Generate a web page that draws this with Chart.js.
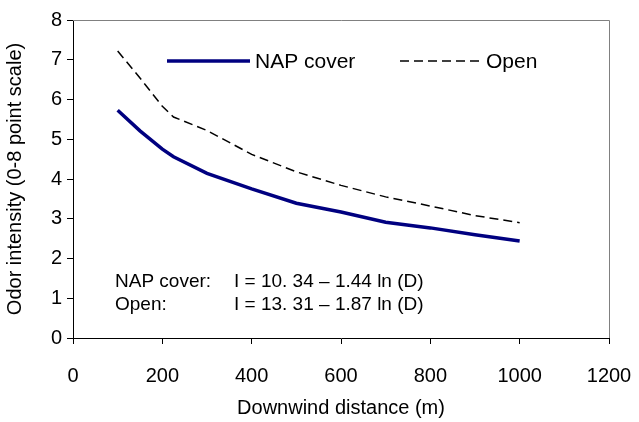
<!DOCTYPE html>
<html>
<head>
<meta charset="utf-8">
<script src="https://cdn.jsdelivr.net/npm/chart.js@4.4.1/dist/chart.umd.min.js"></script>
<style>
    html, body { margin: 0; padding: 0; background: #fff; }
    #wrap { width: 639px; height: 422px; }
</style>
</head>
<body>
<div id="wrap"><canvas id="odorChart" width="639" height="422"></canvas></div>
<script>
// distances (m) and odor intensities
const distances = [100, 150, 200, 225, 300, 400, 500, 600, 700, 800, 900, 1000];
const napCover = [5.73, 5.21, 4.75, 4.56, 4.14, 3.75, 3.39, 3.17, 2.91, 2.77, 2.60, 2.44];
const openLagoon = [7.22, 6.54, 5.83, 5.56, 5.22, 4.62, 4.18, 3.84, 3.55, 3.32, 3.08, 2.90];
const xTicks = [0, 200, 400, 600, 800, 1000, 1200];
const yTicks = [0, 1, 2, 3, 4, 5, 6, 7, 8];
const equations = [
    ['NAP cover:', 'I = 10. 34 \u2013 1.44 ln (D)'],
    ['Open:', 'I = 13. 31 \u2013 1.87 ln (D)']
];

const FONT = '"Liberation Sans", Arial, sans-serif';

function toPoints(ys) {
    return distances.map((d, i) => ({ x: d, y: ys[i] }));
}

// grey frame on top/right, legend and equation text inside the plot
const extras = {
    id: 'extras',
    beforeDatasetsDraw(chart) {
        const { ctx, chartArea: a } = chart;
        ctx.save();
        ctx.strokeStyle = '#808080';
        ctx.lineWidth = 1;
        ctx.beginPath();
        ctx.moveTo(a.left, a.top + 0.5);
        ctx.lineTo(a.right + 0.5, a.top + 0.5);
        ctx.lineTo(a.right + 0.5, a.bottom);
        ctx.stroke();
        ctx.restore();
    },
    afterDatasetsDraw(chart) {
        const { ctx, chartArea: a } = chart;
        ctx.save();
        // legend
        const ly = a.top + 41;
        ctx.lineWidth = 3.5;
        ctx.strokeStyle = '#000080';
        ctx.beginPath();
        ctx.moveTo(167, ly);
        ctx.lineTo(250, ly);
        ctx.stroke();
        ctx.lineWidth = 1.5;
        ctx.strokeStyle = '#000';
        ctx.setLineDash([9, 5]);
        ctx.beginPath();
        ctx.moveTo(400, ly);
        ctx.lineTo(480, ly);
        ctx.stroke();
        ctx.setLineDash([]);
        ctx.fillStyle = '#000';
        ctx.font = '21px ' + FONT;
        ctx.textBaseline = 'middle';
        ctx.fillText('NAP cover', 255, ly + 1);
        ctx.fillText('Open', 486, ly + 1);
        // equations
        ctx.font = '19px ' + FONT;
        equations.forEach((row, i) => {
            const y = 282 + i * 23;
            ctx.fillText(row[0], 115, y);
            ctx.fillText(row[1], 234, y);
        });
        ctx.restore();
    }
};

const ctx = document.getElementById('odorChart').getContext('2d');
new Chart(ctx, {
    type: 'line',
    data: {
        datasets: [
            {
                label: 'NAP cover',
                data: toPoints(napCover),
                borderColor: '#000080',
                borderWidth: 3.5,
                pointRadius: 0,
                tension: 0,
                fill: false
            },
            {
                label: 'Open',
                data: toPoints(openLagoon),
                borderColor: '#000000',
                borderWidth: 1.5,
                borderDash: [9, 5],
                pointRadius: 0,
                tension: 0,
                fill: false
            }
        ]
    },
    options: {
        responsive: false,
        animation: false,
        layout: { padding: { top: 20, right: 30, left: 0, bottom: 0 } },
        plugins: {
            legend: { display: false },
            tooltip: { enabled: false }
        },
        scales: {
            x: {
                type: 'linear',
                min: 0,
                max: 1200,
                afterBuildTicks: (scale) => { scale.ticks = xTicks.map(v => ({ value: v })); },
                afterFit: (scale) => {
                    scale.height = 84;
                    scale.paddingLeft = 0;
                    scale.paddingRight = 0;
                },
                border: { color: '#000', width: 1 },
                grid: { drawOnChartArea: false, color: '#000', tickLength: 6 },
                ticks: {
                    color: '#000',
                    padding: 20,
                    font: { family: FONT, size: 20 },
                    callback: (v) => String(v)
                },
                title: {
                    display: true,
                    text: 'Downwind distance (m)',
                    color: '#000',
                    font: { family: FONT, size: 20 },
                    padding: { top: 0, bottom: 2 }
                }
            },
            y: {
                min: 0,
                max: 8,
                afterBuildTicks: (scale) => { scale.ticks = yTicks.map(v => ({ value: v })); },
                afterFit: (scale) => { scale.width = 73; },
                border: { color: '#000', width: 1 },
                grid: { drawOnChartArea: false, color: '#000', tickLength: 6 },
                ticks: {
                    color: '#000',
                    padding: 5,
                    font: { family: FONT, size: 20 },
                    callback: (v) => String(v)
                },
                title: {
                    display: true,
                    text: 'Odor intensity (0-8 point scale)',
                    color: '#000',
                    font: { family: FONT, size: 20 },
                    padding: { top: 3, bottom: 0 }
                }
            }
        }
    },
    plugins: [extras]
});
</script>
</body>
</html>
